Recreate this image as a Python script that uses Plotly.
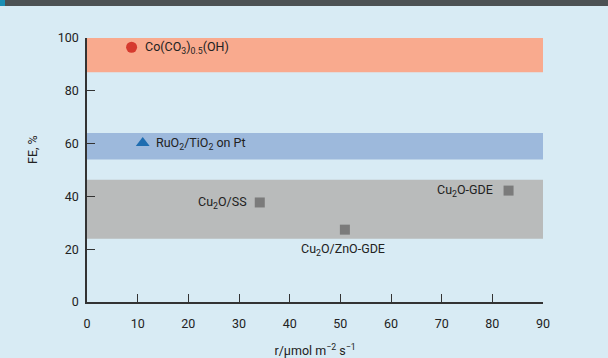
import plotly.graph_objects as go

# Data
band_low = [87, 54, 24]
band_high = [100, 64, 46.3]
band_colors = ["#f9aa8e", "#9db9dc", "#b9bbbb"]

co_x = [8.8]; co_y = [96.5]
ru_x = [11.0]; ru_y = [60.2]
cu_x = [34.1, 50.9, 83.2]; cu_y = [37.7, 27.4, 42.2]
cu_labels = ["Cu<sub>2</sub>O/SS", "Cu<sub>2</sub>O/ZnO-GDE", "Cu<sub>2</sub>O-GDE"]
co_label = "Co(CO<sub>3</sub>)<sub>0.5</sub>(OH)"
ru_label = "RuO<sub>2</sub>/TiO<sub>2</sub> on Pt"

x_ticks = [0, 10, 20, 30, 40, 50, 60, 70, 80, 90]
y_ticks = [0, 20, 40, 60, 80, 100]

FONT = "Roboto, Arial"
TXT = "#222222"
F = dict(family=FONT, size=12.5, color=TXT)

fig = go.Figure()

for lo, hi, c in zip(band_low, band_high, band_colors):
    fig.add_shape(type="rect", xref="x", yref="y", x0=0, x1=90, y0=lo, y1=hi,
                  fillcolor=c, line_width=0, layer="below")

fig.add_trace(go.Scatter(x=co_x, y=co_y, mode="markers",
                         marker=dict(symbol="circle", size=11, color="#d63a2e"), cliponaxis=False))
fig.add_trace(go.Scatter(x=ru_x, y=ru_y, mode="markers",
                         marker=dict(symbol="triangle-up", size=12, color="#1f6db0"), cliponaxis=False))
fig.add_trace(go.Scatter(x=cu_x, y=cu_y, mode="markers",
                         marker=dict(symbol="square", size=10, color="#7b7b7b"), cliponaxis=False))

fig.add_annotation(x=co_x[0], y=co_y[0], text=co_label, showarrow=False, xanchor="left",
                   xshift=11, font=F)
fig.add_annotation(x=ru_x[0], y=ru_y[0], text=ru_label, showarrow=False, xanchor="left",
                   xshift=11, font=F)
fig.add_annotation(x=cu_x[0], y=cu_y[0], text=cu_labels[0], showarrow=False, xanchor="right",
                   xshift=-11, font=F)
fig.add_annotation(x=cu_x[1], y=cu_y[1], text=cu_labels[1], showarrow=False, xanchor="center",
                   xshift=-2, yshift=-20, font=F)
fig.add_annotation(x=cu_x[2], y=cu_y[2], text=cu_labels[2], showarrow=False, xanchor="right",
                   xshift=-14, font=F)

# top dark header band
fig.add_shape(type="rect", xref="paper", yref="paper", x0=-87/456, x1=521/456,
              y0=1 + 32/264, y1=1 + 40/264, fillcolor="#4d5254", line_width=0)
fig.add_shape(type="rect", xref="paper", yref="paper", x0=-87/456, x1=-82/456,
              y0=1 + 32/264, y1=1 + 40/264, fillcolor="#1a8fb5", line_width=0)

fig.add_annotation(text="FE, %", xref="paper", yref="paper", x=-55/456, y=(302 - 150) / 264,
                   xanchor="center", yanchor="middle",
                   textangle=-90, showarrow=False, font=F)

fig.update_layout(
    width=608, height=358,
    margin=dict(l=87, r=65, t=38, b=56, autoexpand=False),
    paper_bgcolor="#d8ebf4", plot_bgcolor="#d8ebf4",
    showlegend=False,
    font=F,
)
fig.update_xaxes(range=[0, 90], tickvals=x_ticks, ticks="inside", ticklen=8, tickwidth=1.2,
                 tickcolor="#333", showline=True, linecolor="#333", linewidth=1.5,
                 showgrid=False, zeroline=False, ticklabelstandoff=9, automargin=False,
                 title=dict(text="r/µmol m<sup>−2</sup> s<sup>−1</sup>", standoff=18, font=F))
fig.update_yaxes(range=[0, 100], tickvals=y_ticks, ticks="inside", ticklen=8, tickwidth=1.2,
                 tickcolor="#333", showline=True, linecolor="#333", linewidth=1.5,
                 showgrid=False, zeroline=False, ticklabelstandoff=4, automargin=False)

fig.write_html("out.html", config={"displayModeBar": False},
               post_script="document.body.style.margin='0';")
